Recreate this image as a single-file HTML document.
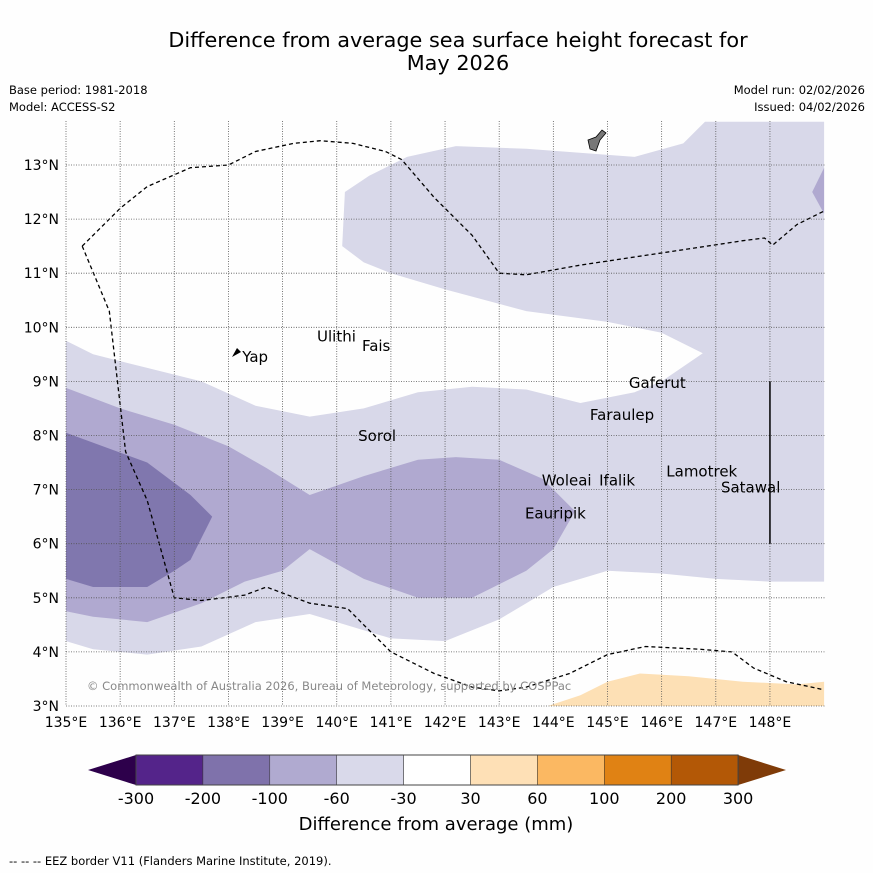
<!DOCTYPE html>
<html><head><meta charset="utf-8"><style>
body{margin:0;background:#fff;width:873px;height:873px;overflow:hidden;font-family:"DejaVu Sans","Liberation Sans",sans-serif}
svg{display:block}
</style></head><body>
<svg id="svg" width="873" height="873" xmlns="http://www.w3.org/2000/svg">
<rect width="873" height="873" fill="#fefefe"/>
<text x="458" y="47" font-size="20.8" text-anchor="middle" font-family="DejaVu Sans, sans-serif">Difference from average sea surface height forecast for</text>
<text x="458" y="70" font-size="20.8" text-anchor="middle" font-family="DejaVu Sans, sans-serif">May 2026</text>
<text x="9" y="94" font-size="11.5" font-family="DejaVu Sans, sans-serif">Base period: 1981-2018</text>
<text x="9" y="111" font-size="11.5" font-family="DejaVu Sans, sans-serif">Model: ACCESS-S2</text>
<text x="865" y="94" font-size="11.5" text-anchor="end" font-family="DejaVu Sans, sans-serif">Model run: 02/02/2026</text>
<text x="865" y="111" font-size="11.5" text-anchor="end" font-family="DejaVu Sans, sans-serif">Issued: 04/02/2026</text>
<g id="map"></g>
<g id="cbar"></g>
<text x="436" y="830" font-size="18" text-anchor="middle" font-family="DejaVu Sans, sans-serif">Difference from average (mm)</text>
<text x="9" y="865" font-size="11.5" font-family="DejaVu Sans, sans-serif">--  --  -- EEZ border V11 (Flanders Marine Institute, 2019).</text>
</svg>
<script>
const lonTicks=[135,136,137,138,139,140,141,142,143,144,145,146,147,148];
const latTicks=[3,4,5,6,7,8,9,10,11,12,13];
const lightZone=[[135,9.75],[135.5,9.5],[136.5,9.25],[137.5,9.0],[138.5,8.55],[139.5,8.35],[140.5,8.5],[141.5,8.8],[142.5,8.9],[143.5,8.85],[144.5,8.6],[145.5,8.8],[146,9.0],[146.76,9.52],[146,9.9],[145,10.1],[143.5,10.3],[142,10.7],[141,11.0],[140.5,11.2],[140.1,11.5],[140.15,12.5],[140.6,12.8],[141.3,13.15],[142.2,13.35],[143.5,13.3],[145.5,13.15],[146.4,13.4],[146.8,13.8],[149,13.8],[149,5.3],[148,5.3],[147,5.35],[146,5.45],[145,5.5],[144,5.2],[143.5,4.9],[143,4.6],[142,4.2],[141,4.25],[140,4.55],[139.5,4.7],[138.5,4.55],[137.5,4.1],[136.5,3.95],[135.5,4.05],[135,4.2]];
const mediumZone=[[135,8.88],[136,8.5],[137,8.2],[138,7.8],[138.7,7.4],[139.5,6.9],[140.5,7.25],[141.5,7.55],[142.2,7.6],[143,7.55],[143.8,7.2],[144.4,6.6],[144.0,5.9],[143.5,5.5],[142.5,5.0],[141.5,5.0],[140.5,5.35],[139.5,5.9],[139,5.5],[138.3,5.3],[137.5,4.9],[136.5,4.55],[135.5,4.65],[135,4.75]];
const mediumCorner=[[149,12.95],[148.78,12.5],[149,12.1]];
const darkZone=[[135,8.05],[136.5,7.5],[137.3,6.9],[137.7,6.5],[137.3,5.7],[137,5.5],[136.5,5.2],[135.5,5.2],[135,5.35]];
const orangeZone=[[143.9,3.0],[144.5,3.2],[145,3.45],[145.6,3.6],[146.5,3.55],[147.5,3.45],[148.5,3.4],[149,3.45],[149,3.0]];
const eezSouth=[[135.3,11.5],[135.8,10.3],[136.1,7.7],[136.5,6.8],[137,5.0],[137.5,4.95],[138.3,5.05],[138.7,5.2],[139.5,4.9],[140.2,4.8],[140.5,4.5],[141,4.0],[141.8,3.6],[142.5,3.35],[143,3.28],[143.5,3.35],[144.3,3.6],[145,3.95],[145.7,4.1],[146.7,4.05],[147.3,4.0],[147.7,3.7],[148.3,3.45],[149,3.3]];
const eezNorth=[[135.3,11.5],[136,12.2],[136.5,12.6],[137.3,12.95],[138,13.0],[138.5,13.25],[139.2,13.4],[139.7,13.45],[140.3,13.4],[140.9,13.25],[141.2,13.1],[141.8,12.4],[142.5,11.7],[143,11.0],[143.5,10.97],[144.5,11.15],[145.5,11.3],[146.5,11.45],[147.5,11.6],[147.9,11.65],[148.05,11.52],[148.5,11.9],[149,12.15]];
const placeNames=["Yap","Ulithi","Fais","Gaferut","Faraulep","Sorol","Woleai","Ifalik","Lamotrek","Satawal","Eauripik"];
const placeLon=[138.2,139.58,140.41,145.34,144.62,140.34,143.73,144.79,146.03,147.04,143.42];
const placeLat=[9.45,9.83,9.65,8.97,8.38,7.99,7.17,7.17,7.33,7.04,6.56];
const cbLabels=["-300","-200","-100","-60","-30","30","60","100","200","300"];
const cbColors=["#54248a","#7f72ab","#b0aad0","#d9d9ea","#ffffff","#fee0b6","#fbb862","#e08214","#b35806"];

const NS="http://www.w3.org/2000/svg";
const X0=66,PX=54.15,Y0=706,PY=54.1;
const xs=l=>X0+(l-135)*PX, ys=l=>Y0-(l-3)*PY;
const L=66,R=825,T=121,B=706;
function mk(p,tag,at){const e=document.createElementNS(NS,tag);for(const k in at)e.setAttribute(k,at[k]);p.appendChild(e);return e;}
const map=document.getElementById('map');
const defs=mk(document.getElementById('svg'),'defs',{});
const cp=mk(defs,'clipPath',{id:'cp'});mk(cp,'rect',{x:L,y:T,width:R-L,height:B-T});
const g=mk(map,'g',{'clip-path':'url(#cp)'});
const pts=a=>a.map(p=>xs(p[0]).toFixed(1)+','+ys(p[1]).toFixed(1)).join(' ');
let e;
e=mk(g,'polygon',{points:pts(lightZone),fill:'#d8d8e9'});

e=mk(g,'polygon',{points:pts(mediumZone),fill:'#b0a9d0'});

e=mk(g,'polygon',{points:pts(mediumCorner),fill:'#b0a9d0'});

e=mk(g,'polygon',{points:pts(darkZone),fill:'#8077ae'});

e=mk(g,'polygon',{points:pts(orangeZone),fill:'#fde0b5'});

lonTicks.forEach(v=>{const x=xs(v);
 e=mk(map,'line',{x1:x,x2:x,y1:T,y2:B,stroke:'#555','stroke-width':0.8,'stroke-dasharray':'1,1.5'});
 
 e=mk(map,'text',{x:x,y:727,'font-size':14,'text-anchor':'middle'});e.textContent=v+'°E';
 });
latTicks.forEach(v=>{const y=ys(v);
 e=mk(map,'line',{x1:L,x2:R,y1:y,y2:y,stroke:'#555','stroke-width':0.8,'stroke-dasharray':'1,1.5'});
 
 e=mk(map,'text',{x:59,y:y+5,'font-size':14,'text-anchor':'end'});e.textContent=v+'°N';
 });
[eezSouth,eezNorth].forEach((a,i)=>{e=mk(g,'polyline',{points:pts(a),fill:'none',stroke:'#000','stroke-width':1.3,'stroke-dasharray':'4,3'});
 });
e=mk(map,'line',{x1:xs(148),x2:xs(148),y1:ys(9),y2:ys(6),stroke:'#000','stroke-width':1.5});

e=mk(map,'path',{d:'M588,140 L596,137 L602,130 L606,133 L600,140 L596,151 L590,149 Z',fill:'#777',stroke:'#000','stroke-width':0.8});

e=mk(map,'path',{d:'M232,357 L237,348 L241,352 Z',fill:'#000'});

placeNames.forEach((n,i)=>{e=mk(map,'text',{x:xs(placeLon[i])+3,y:ys(placeLat[i])+5,'font-size':15});e.textContent=n;
 });
e=mk(map,'text',{x:87,y:690,'font-size':11.5,fill:'#888'});e.textContent='© Commonwealth of Australia 2026, Bureau of Meteorology, supported by COSPPac';

const cb=document.getElementById('cbar');const cx0=136,cw=66.9,cy=755,ch=30;
e=mk(cb,'polygon',{points:`${cx0},${cy} ${cx0},${cy+ch} 88,${cy+15}`,fill:'#2d004b'});

const ex=cx0+cw*cbColors.length;
e=mk(cb,'polygon',{points:`${ex},${cy} ${ex},${cy+ch} 786,${cy+15}`,fill:'#7f3b08'});

cbColors.forEach((c,i)=>{e=mk(cb,'rect',{x:cx0+i*cw,y:cy,width:cw,height:ch,fill:c,stroke:'#333','stroke-width':0.5});
 });
mk(cb,'rect',{x:cx0,y:cy,width:cw*9,height:ch,fill:'none',stroke:'#444','stroke-width':1});
cbLabels.forEach((t,i)=>{e=mk(cb,'text',{x:cx0+i*cw,y:804,'font-size':16,'text-anchor':'middle'});e.textContent=t;
 });
</script>
</body></html>
